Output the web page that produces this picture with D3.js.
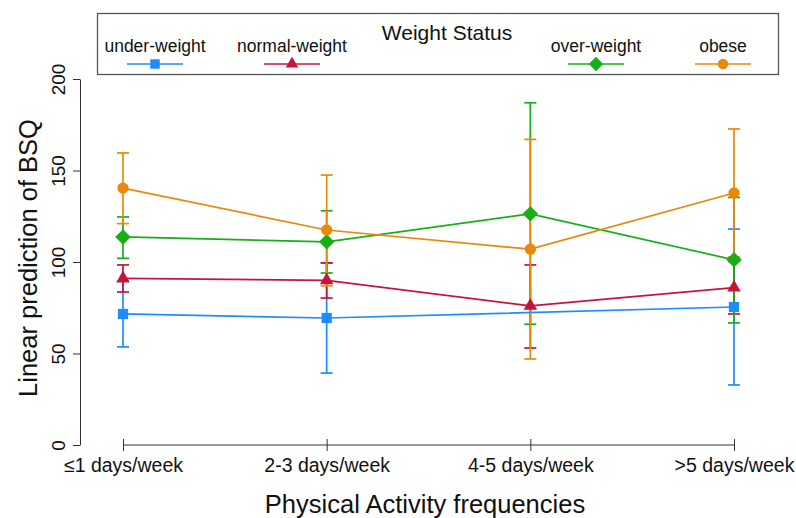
<!DOCTYPE html>
<html>
<head>
<meta charset="utf-8">
<script src="https://cdn.jsdelivr.net/npm/d3@7"></script>
<style>
  body { margin: 0; background: #fff; }
  text { font-family: "Liberation Sans", Arial, sans-serif; fill: #111; }
</style>
</head>
<body>
<div id="chart"></div>
<script>
// categories on the x axis
const categories = ["≤1 days/week", "2-3 days/week", "4-5 days/week", ">5 days/week"];
const yTicks = [0, 50, 100, 150, 200];

// series: predicted value, lower and upper CI (null = no estimate)
const seriesNames = ["under-weight", "normal-weight", "over-weight", "obese"];
const underMean  = [71.6, 69.4, null, 75.4];
const underLow   = [53.6, 39.3, null, 32.8];
const underHigh  = [89.6, 99.5, null, 118.0];
const normalMean = [91.0, 90.0, 76.0, 86.0];
const normalLow  = [83.6, 80.3, 53.0, 71.6];
const normalHigh = [98.4, 99.5, 98.4, 100.4];
const overMean   = [113.7, 111.0, 126.3, 101.2];
const overLow    = [102.0, 94.0, 66.0, 66.7];
const overHigh   = [124.6, 128.0, 187.0, 135.3];
const obeseMean  = [140.4, 117.5, 107.0, 137.7];
const obeseLow   = [121.0, 87.0, 47.0, 102.7];
const obeseHigh  = [159.6, 147.5, 167.0, 172.7];

const colors = ["#1e8cff", "#c8143c", "#16b016", "#e8890c"];

// marker shapes (diamond = square turned 45deg)
const symbols = [d3.symbolSquare, d3.symbolTriangle, d3.symbolSquare, d3.symbolCircle];
const symSizes = [105, 80, 120, 100];
const symRotate = [0, 0, 45, 0];

const series = [
  [underMean, underLow, underHigh],
  [normalMean, normalLow, normalHigh],
  [overMean, overLow, overHigh],
  [obeseMean, obeseLow, obeseHigh]
].map((s, i) => ({
  name: seriesNames[i],
  color: colors[i],
  symbol: symbols[i],
  size: symSizes[i],
  rot: symRotate[i],
  values: categories.map((c, j) => ({ cat: c, mean: s[0][j], lo: s[1][j], hi: s[2][j] }))
    .filter(d => d.mean != null)
}));

const width = 796, height = 518;

const x = d3.scalePoint().domain(categories).range([123, 734]);
const y = d3.scaleLinear().domain([0, 200]).range([445, 79]);

const svg = d3.select("#chart").append("svg")
  .attr("width", width)
  .attr("height", height);

// y axis
const yAxis = svg.append("g")
  .attr("transform", "translate(80,0)")
  .call(d3.axisLeft(y).tickValues(yTicks).tickSize(7).tickSizeOuter(0));
yAxis.select(".domain").attr("stroke", "#333");
yAxis.selectAll(".tick line").attr("stroke", "#333");
yAxis.selectAll(".tick text")
  .attr("x", null).attr("dy", null)
  .attr("transform", "translate(-15,0) rotate(-90)")
  .attr("text-anchor", "middle")
  .style("font-size", "19px")
  .style("fill", "#111");

// x axis
const xAxis = svg.append("g")
  .attr("transform", "translate(0,445)")
  .call(d3.axisBottom(x).tickSize(7).tickSizeOuter(0));
xAxis.select(".domain").attr("stroke", "#333").attr("d", `M${x.range()[0]},0H${x.range()[1]}`);
xAxis.selectAll(".tick line").attr("stroke", "#333").attr("y1", -6).attr("y2", 6);
xAxis.selectAll(".tick text")
  .attr("y", 13)
  .style("font-size", "19.5px")
  .style("fill", "#111");

// axis titles
svg.append("text")
  .attr("transform", "translate(37,258) rotate(-90)")
  .attr("text-anchor", "middle")
  .style("font-size", "25.5px")
  .text("Linear prediction of BSQ");

svg.append("text")
  .attr("x", 425).attr("y", 513)
  .attr("text-anchor", "middle")
  .style("font-size", "25.5px")
  .text("Physical Activity frequencies");

// confidence caps first, then lines and markers on top
const capW = 6;
const errLayer = svg.append("g");
series.forEach(s => {
  const eb = errLayer.append("g").selectAll("g").data(s.values).join("g")
    .attr("stroke", s.color).attr("stroke-width", 1.7);
  eb.append("line")
    .attr("x1", d => x(d.cat)).attr("x2", d => x(d.cat))
    .attr("y1", d => y(d.lo)).attr("y2", d => y(d.hi));
  eb.append("line")
    .attr("x1", d => x(d.cat) - capW).attr("x2", d => x(d.cat) + capW)
    .attr("y1", d => y(d.lo)).attr("y2", d => y(d.lo));
  eb.append("line")
    .attr("x1", d => x(d.cat) - capW).attr("x2", d => x(d.cat) + capW)
    .attr("y1", d => y(d.hi)).attr("y2", d => y(d.hi));
});

const line = d3.line().x(d => x(d.cat)).y(d => y(d.mean));

const sg = svg.append("g").selectAll("g")
  .data(series)
  .join("g");

sg.append("path")
  .attr("fill", "none")
  .attr("stroke", d => d.color)
  .attr("stroke-width", 1.7)
  .attr("d", d => line(d.values));

sg.each(function(s) {
  d3.select(this).selectAll("path.mk").data(s.values).join("path").attr("class", "mk")
    .attr("transform", d => `translate(${x(d.cat)},${y(d.mean)}) rotate(${s.rot})`)
    .attr("d", d3.symbol().type(s.symbol).size(s.size))
    .attr("fill", s.color);
});

// legend
const legend = svg.append("g");
legend.append("rect")
  .attr("x", 97.5).attr("y", 13.5).attr("width", 681).attr("height", 61)
  .attr("fill", "#fff").attr("stroke", "#555").attr("stroke-width", 1.3);
legend.append("text")
  .attr("x", 447).attr("y", 40)
  .attr("text-anchor", "middle")
  .style("font-size", "21px")
  .text("Weight Status");

const legendX = [155, 292, 596, 723];
const li = legend.selectAll("g.item").data(series).join("g").attr("class", "item")
  .attr("transform", (d, i) => `translate(${legendX[i]},0)`);
li.append("text")
  .attr("y", 52).attr("text-anchor", "middle")
  .style("font-size", "17.5px")
  .text(d => d.name);
li.append("line")
  .attr("x1", -28).attr("x2", 28).attr("y1", 64).attr("y2", 64)
  .attr("stroke", d => d.color).attr("stroke-width", 1.7);
li.append("path")
  .attr("transform", d => `translate(0,64) rotate(${d.rot})`)
  .attr("d", d => d3.symbol().type(d.symbol).size(d.size * 0.85)())
  .attr("fill", d => d.color);
</script>
</body>
</html>
